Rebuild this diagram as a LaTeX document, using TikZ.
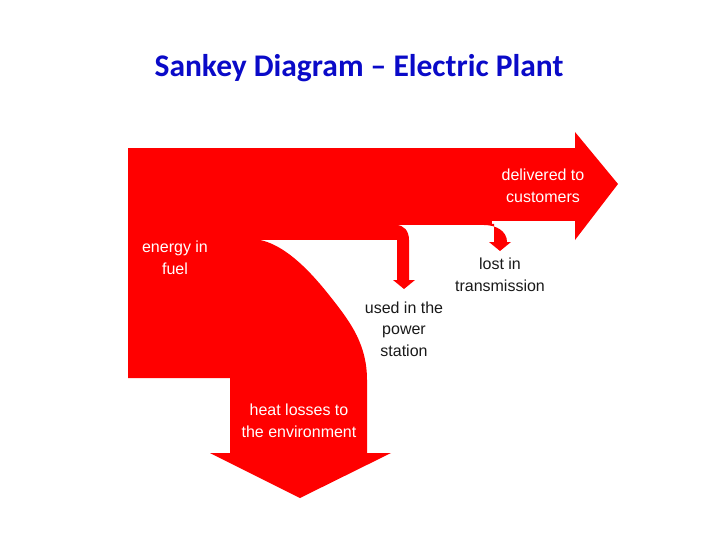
\documentclass[tikz,border=0pt]{standalone}
\usepackage{fontspec}
\setmainfont{Liberation Sans}
\newfontfamily\titlefont{Carlito}
\definecolor{flowred}{RGB}{255,0,0}
\definecolor{titleblue}{RGB}{10,10,200}
\definecolor{labelblack}{RGB}{25,25,25}
\begin{document}
\begin{tikzpicture}[x=1pt,y=-1pt,
  flow/.style={fill=flowred,draw=none},
  lbl/.style={align=center,inner sep=0pt,font=\fontsize{16}{21.5}\selectfont},
  inlbl/.style={lbl,text=white},
  outlbl/.style={lbl,text=labelblack}]
\useasboundingbox (0,0) rectangle (720,540);
% main band to customers
\fill[flow] (128,148) rectangle (575,221.5);
\fill[flow] (575,132) -- (618,184) -- (575,240) -- cycle;
% band portion left of the transmission branch
\fill[flow] (128,221) rectangle (492,225);
% lost in transmission hook
\fill[flow] (484,225) .. controls (496,225) and (507,231) .. (507,242)
  -- (511,242) -- (500,251) -- (489,242) -- (494,242) -- (494,224) -- (484,224) -- cycle;
% band portion left of the power-station branch
\fill[flow] (128,224) rectangle (397,240);
% used in the power station hook
\fill[flow] (396,224) -- (396,225) .. controls (404,225) and (409,231) .. (409,240)
  -- (409,280) -- (415,280) -- (404,289) -- (393,280) -- (397,280) -- (397,224) -- cycle;
% heat losses
\fill[flow] (128,239) -- (253,239) .. controls (285,241) and (315,277) .. (333,300)
  .. controls (351,323) and (367,345) .. (367,380) -- (367,453) -- (391,453)
  -- (300,498) -- (210,453) -- (230,453) -- (230,378) -- (128,378) -- cycle;
% labels
\node[font=\titlefont\bfseries\fontsize{31.5}{36}\selectfont,text=titleblue,inner sep=0pt] (title) at (359,68) {Sankey Diagram – Electric Plant};
\node[inlbl] (fuel) at (175,258) {energy in\\fuel};
\node[inlbl] (cust) at (543,186) {delivered to\\customers};
\node[outlbl] (lost) at (500,275) {lost in\\transmission};
\node[outlbl] (power) at (404,329) {used in the\\power\\station};
\node[inlbl] (heat) at (299,421) {heat losses to\\the environment};
\end{tikzpicture}
\end{document}
